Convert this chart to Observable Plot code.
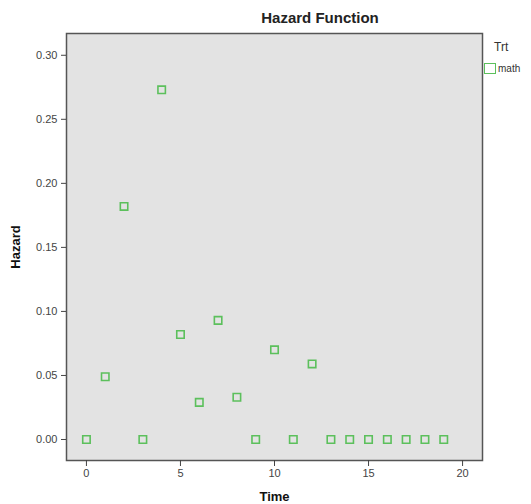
<!DOCTYPE html>
<html><head><meta charset="utf-8">
<script src="https://cdn.jsdelivr.net/npm/d3@7"></script>
<script src="https://cdn.jsdelivr.net/npm/@observablehq/plot@0.6"></script>
<style>
body{margin:0;background:#fff;font-family:"Liberation Sans",Arial,sans-serif;}
#wrap{position:relative;width:531px;height:504px;}
#title{position:absolute;left:0;top:9px;width:640px;text-align:center;font-weight:bold;font-size:15px;color:#222;}
#legT{position:absolute;left:494px;top:40px;font-size:12px;color:#333;}
#legI{position:absolute;left:484px;top:63px;font-size:10px;color:#333;display:flex;align-items:center;}
#legI span.sw{display:inline-block;width:10px;height:9px;border:1.6px solid #5cc05c;margin-right:2px;}
</style></head>
<body><div id="wrap"><div id="title">Hazard Function</div><div id="legT">Trt</div><div id="legI"><span class="sw"></span>math</div></div>
<script>
const time = [0,1,2,3,4,5,6,7,8,9,10,11,12,13,14,15,16,17,18,19];
const hazard = [0,0.049,0.182,0,0.273,0.082,0.029,0.093,0.033,0,0.070,0,0.059,0,0,0,0,0,0,0];
const xTicks = [0,5,10,15,20];
const yTicks = [0,0.05,0.10,0.15,0.20,0.25,0.30];
const data = time.map((t,i)=>({t, h: hazard[i]}));
const chart = Plot.plot({
  width: 531, height: 504,
  marginLeft: 66, marginRight: 49, marginTop: 33, marginBottom: 44,
  style: {fontFamily: '"Liberation Sans", Arial, sans-serif', fontSize: "11px", color: "#333", background: "transparent"},
  x: {domain: [-1.06, 21.06], ticks: xTicks, tickSize: 6, tickFormat: d3.format("d"), label: "Time", labelAnchor: "center", labelOffset: 40},
  y: {domain: [-0.0164, 0.317], ticks: yTicks, tickSize: 5, tickFormat: d3.format(".2f"), label: "Hazard", labelAnchor: "center", labelOffset: 56},
  marks: [
    Plot.frame({fill: "#e3e3e3", stroke: "#555", strokeWidth: 1.5}),
    Plot.axisX({ticks: xTicks, tickSize: 6, tickFormat: d3.format("d"), label: "Time", labelAnchor: "center", labelArrow: "none", labelOffset: 40, fontSize: 11, stroke: "#444"}),
    Plot.axisY({ticks: yTicks, tickSize: 5, tickFormat: d3.format(".2f"), label: "Hazard", labelAnchor: "center", labelArrow: "none", labelOffset: 56, fontSize: 11, stroke: "#444"}),
    Plot.dot(data, {x: "t", y: "h", symbol: "square", r: 4.2, stroke: "#5cc05c", strokeWidth: 1.6, fill: "none"})
  ]
});
chart.style.position = "absolute"; chart.style.left = "0"; chart.style.top = "0";
document.getElementById("wrap").prepend(chart);
chart.querySelectorAll("[aria-label='x-axis label'] text, [aria-label='y-axis label'] text").forEach(t=>{t.setAttribute("font-weight","bold");t.setAttribute("font-size","13");t.style.fill="#111";});
chart.querySelectorAll("[aria-label='x-axis tick label'] text, [aria-label='y-axis tick label'] text").forEach(t=>{t.style.fill="#444";});
</script></body></html>
